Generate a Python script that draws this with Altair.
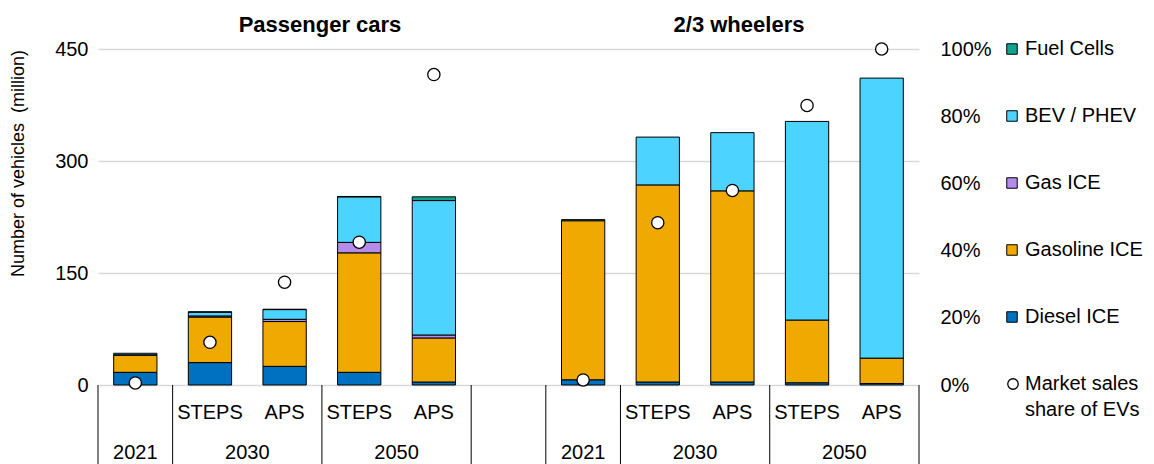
import altair as alt
import pandas as pd

# ---- data ----
slots = ["PC 2021", "PC 2030 STEPS", "PC 2030 APS", "PC 2050 STEPS", "PC 2050 APS", "gap",
         "W 2021", "W 2030 STEPS", "W 2030 APS", "W 2050 STEPS", "W 2050 APS"]
bar_slots = ["PC 2021", "PC 2030 STEPS", "PC 2030 APS", "PC 2050 STEPS", "PC 2050 APS",
             "W 2021", "W 2030 STEPS", "W 2030 APS", "W 2050 STEPS", "W 2050 APS"]

techs = ["Diesel ICE", "Gasoline ICE", "Gas ICE", "BEV / PHEV", "Fuel Cells"]
legend_order = ["Fuel Cells", "BEV / PHEV", "Gas ICE", "Gasoline ICE", "Diesel ICE"]
legend_colors = ["#12A38E", "#4DD3FF", "#B68CEB", "#F0A900", "#0070C0"]

diesel = [17, 30, 25, 17, 4, 7, 4, 4, 3, 2]
gasoline = [23, 61, 60, 160, 59, 213, 264, 256, 84, 34]
gas = [0.5, 1.5, 3, 14, 4, 0, 0, 0, 0, 0]
bev = [2, 5, 13, 61, 180, 1.5, 64, 78, 266, 375]
fuel_cells = [0, 0.5, 0.5, 0.5, 5, 0, 0, 0, 0, 0]
ev_share = [0.6, 12.7, 30.6, 42.5, 92.4, 1.5, 48.3, 57.9, 83.2, 100]

scenario_slots = ["PC 2030 STEPS", "PC 2030 APS", "PC 2050 STEPS", "PC 2050 APS",
                  "W 2030 STEPS", "W 2030 APS", "W 2050 STEPS", "W 2050 APS"]
scenario_labels = ["STEPS", "APS", "STEPS", "APS", "STEPS", "APS", "STEPS", "APS"]
year_single_slots = ["PC 2021", "W 2021"]
year_single_labels = ["2021", "2021"]
year_pair_slots = ["PC 2030 STEPS", "PC 2050 STEPS", "W 2030 STEPS", "W 2050 STEPS"]
year_pair_labels = ["2030", "2050", "2030", "2050"]
separator_slots = ["PC 2021", "PC 2030 STEPS", "PC 2050 STEPS", "gap", "W 2021",
                   "W 2030 STEPS", "W 2050 STEPS"]
end_slot = ["W 2050 APS"]

FONT = "Liberation Sans"

rows = []
series = [diesel, gasoline, gas, bev, fuel_cells]
for ti, (tech, vals) in enumerate(zip(techs, series)):
    for s, v in zip(bar_slots, vals):
        if v > 0:
            rows.append({"slot": s, "tech": tech, "value": v, "ord": ti})
bar_df = pd.DataFrame(rows)
share_df = pd.DataFrame({"slot": bar_slots, "share": ev_share})

xscale = alt.Scale(domain=slots, paddingInner=0, paddingOuter=0)

bars = alt.Chart(bar_df).mark_bar(
    width=alt.RelativeBandSize(0.58), stroke="black", strokeWidth=1
).encode(
    x=alt.X("slot:N", scale=xscale,
            axis=alt.Axis(labels=False, ticks=False, title=None, grid=False,
                          domainColor="black", domainWidth=1.5)),
    y=alt.Y("value:Q", stack="zero", scale=alt.Scale(domain=[0, 450]),
            axis=alt.Axis(values=[0, 150, 300, 450],
                          title="Number of vehicles \u00a0(million)",
                          domain=False, ticks=False, labelPadding=10,
                          grid=True, gridColor="#d9d9d9", gridWidth=1.5,
                          titleFontSize=18, titleFontWeight="normal", titleFont=FONT,
                          titleColor="black", titleX=-80, titleY=114, titleAngle=270,
                          titleAlign="center", titleBaseline="middle")),
    fill=alt.Fill("tech:N", scale=alt.Scale(domain=legend_order, range=legend_colors),
                  legend=alt.Legend(title=None, orient="none", legendX=904, legendY=-10,
                                    direction="vertical", symbolType="square",
                                    symbolSize=110, symbolStrokeColor="black",
                                    symbolStrokeWidth=1, labelFontSize=20, labelFont=FONT,
                                    labelColor="black", labelOffset=3, rowPadding=47,
                                    padding=0, labelLimit=300)),
    order=alt.Order("ord:Q"),
)

points = alt.Chart(share_df).mark_point(
    shape="circle", filled=True, fill="white", stroke="black", strokeWidth=1.3,
    size=150, opacity=1
).encode(
    x=alt.X("slot:N", scale=xscale, axis=None),
    y=alt.Y("share:Q", scale=alt.Scale(domain=[0, 100]),
            axis=alt.Axis(orient="right", values=[0, 20, 40, 60, 80, 100],
                          labelExpr="datum.value + '%'", title=None, grid=False,
                          domain=False, ticks=False, labelPadding=21)),
)

one = pd.DataFrame({"a": [0]})

scen_text = alt.Chart(pd.DataFrame({"slot": scenario_slots, "label": scenario_labels})).mark_text(
    fontSize=20, font=FONT, color="black", baseline="middle"
).encode(x=alt.X("slot:N", scale=xscale, axis=None), y=alt.value(364), text="label:N")

year1_text = alt.Chart(pd.DataFrame({"slot": year_single_slots, "label": year_single_labels})).mark_text(
    fontSize=20, font=FONT, color="black", baseline="middle"
).encode(x=alt.X("slot:N", scale=xscale, axis=None), y=alt.value(404), text="label:N")

year2_text = alt.Chart(pd.DataFrame({"slot": year_pair_slots, "label": year_pair_labels})).mark_text(
    fontSize=20, font=FONT, color="black", baseline="middle"
).encode(x=alt.X("slot:N", scale=xscale, axis=None, bandPosition=1), y=alt.value(404),
         text="label:N")

sep_rules = alt.Chart(pd.DataFrame({"slot": separator_slots})).mark_rule(
    color="black", strokeWidth=1
).encode(x=alt.X("slot:N", scale=xscale, axis=None, bandPosition=0),
         y=alt.value(336), y2=alt.value(430))

end_rule = alt.Chart(pd.DataFrame({"slot": end_slot})).mark_rule(
    color="black", strokeWidth=1
).encode(x=alt.X("slot:N", scale=xscale, axis=None, bandPosition=1),
         y=alt.value(336), y2=alt.value(430))

title_pc = alt.Chart(one).mark_text(fontSize=22, font=FONT, fontWeight="bold", color="black",
                                    baseline="middle").encode(
    x=alt.value(222), y=alt.value(-24), text=alt.value("Passenger cars"))
title_w = alt.Chart(one).mark_text(fontSize=22, font=FONT, fontWeight="bold", color="black",
                                   baseline="middle").encode(
    x=alt.value(641), y=alt.value(-24), text=alt.value("2/3 wheelers"))

leg_pt = alt.Chart(one).mark_point(shape="circle", filled=True, fill="white", stroke="black",
                                   strokeWidth=1.3, size=110, opacity=1).encode(
    x=alt.value(915), y=alt.value(335))
leg_t1 = alt.Chart(one).mark_text(fontSize=20, font=FONT, color="black", align="left",
                                  baseline="middle").encode(
    x=alt.value(927), y=alt.value(335), text=alt.value("Market sales"))
leg_t2 = alt.Chart(one).mark_text(fontSize=20, font=FONT, color="black", align="left",
                                  baseline="middle").encode(
    x=alt.value(927), y=alt.value(361), text=alt.value("share of EVs"))

chart = alt.layer(
    bars, points, scen_text, year1_text, year2_text, sep_rules, end_rule,
    title_pc, title_w, leg_pt, leg_t1, leg_t2
).resolve_scale(y="independent").properties(
    width=821, height=336,
    autosize=alt.AutoSizeParams(type="none"),
    padding={"left": 90, "top": 41, "right": 227, "bottom": 79},
).configure_view(stroke=None).configure_axis(
    labelFont=FONT, labelFontSize=20, labelColor="black"
)

chart.save("out.html", embed_options={"renderer": "svg", "actions": False})
